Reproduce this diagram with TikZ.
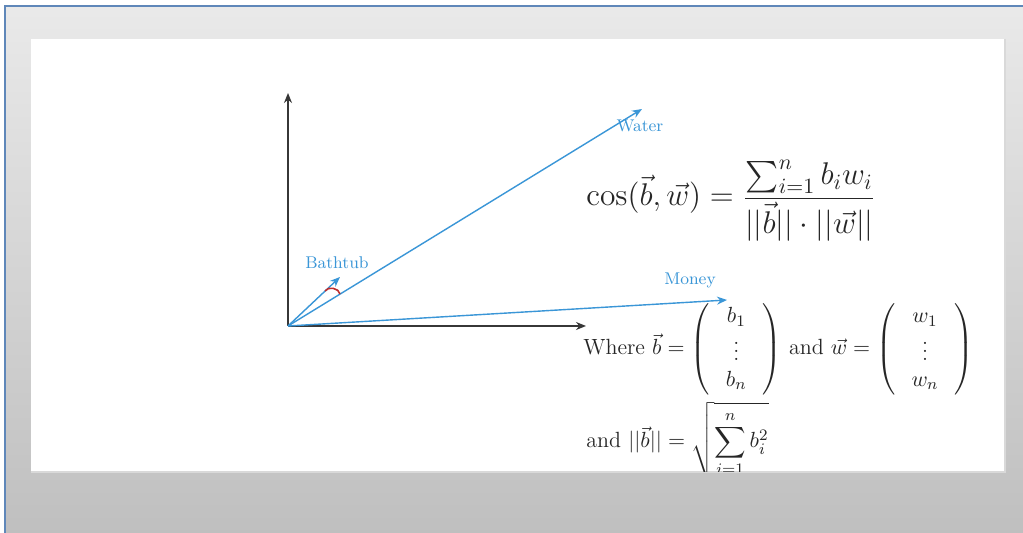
\documentclass[tikz,border=0pt]{standalone}
\usepackage{amsmath}
\usetikzlibrary{arrows.meta, positioning, calc}
\definecolor{vblue}{RGB}{58,150,215}
\definecolor{axgray}{RGB}{55,55,55}
\definecolor{fblue}{RGB}{95,135,185}
\definecolor{arcred}{RGB}{190,45,45}
\newcommand{\colvec}[3]{\left(\setlength{\arraycolsep}{8pt}\begin{array}{c}#1\\ #2\\ #3\end{array}\right)}

\begin{document}
\begin{tikzpicture}[x=0.5pt, y=-0.5pt,
  axis/.style={-{Stealth[length=5pt, width=4pt]}, line width=0.9pt, axgray},
  vec/.style={-{Stealth[length=5pt, width=4pt]}, line width=0.7pt, vblue},
  lbl/.style={text=vblue, font=\fontsize{8.5}{10}\selectfont, inner sep=0pt},
  eq/.style={anchor=base west, inner sep=0pt, text=black!85, font=\fontsize{11}{13}\selectfont}
]
\useasboundingbox (0,0) rectangle (1023,533);
% frame and slide
\shade[top color=gray!17, bottom color=gray!50] (5,6) rectangle (1023,533);
\draw[fblue, line width=1.1pt] (5,533) -- (5,6) -- (1023,6);
\fill[white] (31,39) rectangle (1005,472);
\draw[gray!30, line width=0.6pt] (1005,39) -- (1005,472) -- (31,472);

\begin{scope}
\clip (31,39) rectangle (1005,472);
\coordinate (O)     at (288,326);
\coordinate (ytip)  at (288,93);
\coordinate (xtip)  at (586,326);
\coordinate (water) at (642,109);
\coordinate (money) at (727,300);
\coordinate (bath)  at (340,277);
\coordinate (a1)    at (325,291);
\coordinate (a2)    at (340,294);

\draw[axis] (O) -- (ytip);
\draw[axis] (O) -- (xtip);
\draw[vec] (O) -- (water);
\draw[vec] (O) -- (money);
\draw[vec] (O) -- (bath);
\draw[arcred, line width=0.8pt] (a1) to[bend left=70] (a2);

\node[lbl] (wlab) at (640,126) {Water};
\node[lbl] (mlab) at (690,280) {Money};
\node[lbl] (blab) at (337,263) {Bathtub};

% formulas
\node[eq, font=\fontsize{14.4}{17}\selectfont, scale=1.09] (cosf) at (586,206)
  {$\displaystyle\cos(\vec{b},\vec{w})=\frac{\sum_{i=1}^{n} b_i w_i}{||\vec{b}||\cdot||\vec{w}||}$};
\node[eq] (where) at (583,355)
  {Where $\vec{b}=\colvec{b_1}{\vdots}{b_n}$ and $\vec{w}=\colvec{w_1}{\vdots}{w_n}$};
\node[eq] (norm) at (586,448)
  {and $\displaystyle||\vec{b}||=\sqrt{\sum_{i=1}^{n} b_i^2}$};
\end{scope}
\end{tikzpicture}
\end{document}
